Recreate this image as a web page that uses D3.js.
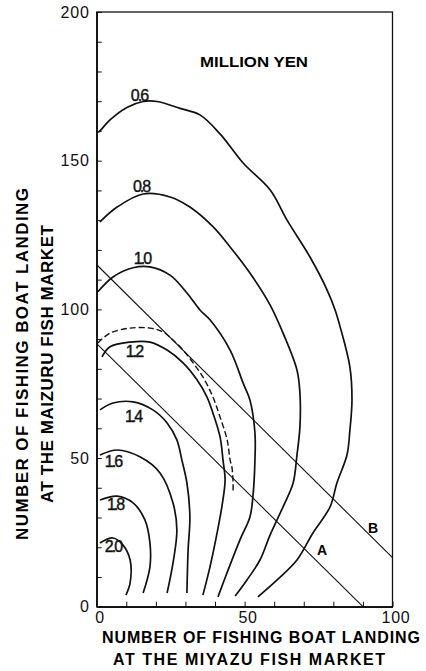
<!DOCTYPE html>
<html>
<head>
<meta charset="utf-8">
<script src="https://d3js.org/d3.v7.min.js"></script>
<style>
  body { margin: 0; background: #fff; }
  svg { display: block; font-family: "Liberation Sans", Arial, sans-serif; }
</style>
</head>
<body>
<div id="chart"></div>
<script>
// contour levels in million yen, points are [miyazu landings, maizuru landings]
var levels = ["0.6", "0.8", "1.0", "1.2", "1.4", "1.6", "1.8", "2.0"];

var c06 = [[0.5,159.5],[1.1,160.0],[4.5,163.7],[10.2,167.9],[15.7,169.9],[20.4,169.9],[28.2,167.6],[34.9,165.4],[41.7,159.0],[49.5,149.2],[58.6,140.2],[64.3,130.1],[72.1,117.6],[77.9,106.5],[80.6,99.8],[82.3,94.1],[85.6,80.6],[86.3,69.5],[85.6,59.4],[84.6,51.0],[81.2,41.6],[78.9,33.6],[73.1,24.8],[67.7,15.7],[61.0,9.0],[54.5,3.3]];
var c08 = [[1.1,129.4],[6.9,134.4],[15.7,138.8],[24.8,137.8],[31.5,134.4],[39.3,127.8],[45.1,121.0],[51.8,112.2],[58.6,101.5],[63.0,92.0],[67.7,79.6],[68.7,71.9],[68.7,60.4],[67.7,51.0],[66.4,41.6],[63.0,33.6],[58.6,24.1],[55.2,15.7],[50.8,9.0],[46.8,3.6]];
var c10 = [[0.4,105.9],[5.5,110.9],[12.3,114.0],[18.0,114.3],[24.8,111.5],[30.5,105.5],[34.9,99.8],[38.3,96.5],[45.1,86.3],[49.5,75.2],[51.8,69.5],[53.5,58.4],[53.5,49.3],[52.8,36.9],[51.8,30.2],[48.4,22.4],[44.4,12.3],[41.0,3.3]];
var c12 = [[1.8,84.0],[4.5,87.4],[11.3,89.0],[18.0,89.0],[23.8,86.3],[29.2,82.0],[33.9,76.3],[37.3,70.5],[39.3,65.1],[41.7,57.1],[42.7,49.3],[43.4,42.6],[42.4,34.2],[40.7,24.8],[38.3,13.4],[35.9,3.9]];
var c14 = [[1.1,66.2],[5.5,68.5],[12.3,68.9],[19.0,66.2],[23.8,61.8],[27.1,56.1],[28.8,49.3],[30.5,41.6],[31.5,30.2],[30.9,19.1],[30.5,4.6]];
var c16 = [[1.1,51.0],[6.9,52.7],[14.6,50.4],[21.4,45.0],[25.8,34.9],[27.1,25.8],[25.8,14.7],[23.8,4.6]];
var c18 = [[1.1,35.9],[6.9,37.2],[12.3,34.9],[16.3,29.2],[18.0,21.4],[18.0,13.4],[15.7,4.6]];
var c20 = [[1.1,21.4],[5.5,23.1],[8.9,20.7],[11.3,15.7],[11.3,8.0],[9.9,3.9]];
var contours = [c06, c08, c10, c12, c14, c16, c18, c20];

// dashed contour next to 1.2
var dashed = [[0.4,88.7],[4.5,92.0],[11.3,93.7],[18.0,93.7],[22.4,92.4],[25.8,89.7],[29.2,86.3],[32.6,82.0],[35.9,77.3],[39.3,70.5],[41.7,63.8],[44.1,56.1],[45.1,49.3],[45.7,47.0],[46.1,41.6],[46.1,38.3]];

// straight lines A and B
var lineA = [[0, 88.5], [90, 0]];
var lineB = [[0, 115], [100, 16.5]];

// where each level label sits (data units)
var labelAt = [[14.3,172.1],[15.0,141.5],[15.3,117.3],[12.6,86.0],[12.3,64.1],[5.5,48.9],[6.2,34.3],[5.5,20.2]];
var lineLabels = [{name: "A", at: [76.2, 19.1]}, {name: "B", at: [93.4, 26.5]}];

var xTicks = d3.range(0, 101, 10);
var yTicks = d3.range(0, 201, 10);

var margin = {top: 12, left: 96.7},
    width = 295.8,
    height = 594.7;

var svg = d3.select("#chart").append("svg")
    .attr("width", 426)
    .attr("height", 671);

var g = svg.append("g")
    .attr("transform", "translate(" + margin.left + "," + margin.top + ")");

var x = d3.scaleLinear().domain([0, 100]).range([0, width]);
var y = d3.scaleLinear().domain([0, 200]).range([height, 0]);

// frame
g.append("rect")
    .attr("width", width)
    .attr("height", height)
    .attr("fill", "none")
    .attr("stroke", "#111")
    .attr("stroke-width", 1.3);

// axes, ticks inside
var yAxis = g.append("g")
    .call(d3.axisLeft(y).tickValues(yTicks).tickSize(-5).tickSizeOuter(0).tickPadding(7)
      .tickFormat(function(d) { return d % 50 === 0 ? d : ""; }));
var xAxis = g.append("g")
    .attr("transform", "translate(0," + height + ")")
    .call(d3.axisBottom(x).tickValues(xTicks).tickSize(-5).tickSizeOuter(0).tickPadding(5)
      .tickFormat(function(d) { return d % 50 === 0 ? d : ""; }));

[yAxis, xAxis].forEach(function(a) {
  a.select(".domain").attr("stroke", "#111").attr("stroke-width", 1.5);
  a.selectAll(".tick line").attr("stroke", "#111").attr("stroke-width", 1);
  a.selectAll(".tick text")
      .attr("fill", "#111")
      .style("font-size", "16px")
      .style("letter-spacing", "0.8px")
      .style("font-family", "'Liberation Sans', Arial, sans-serif");
});
xAxis.selectAll(".tick text").attr("dx", 3);

var line = d3.line()
    .x(function(d) { return x(d[0]); })
    .y(function(d) { return y(d[1]); })
    .curve(d3.curveCatmullRom.alpha(0.5));

// contours
g.selectAll("path.contour")
    .data(contours)
  .enter().append("path")
    .attr("class", "contour")
    .attr("d", line)
    .attr("fill", "none")
    .attr("stroke", "#111")
    .attr("stroke-width", 1.7);

g.append("path")
    .attr("d", line(dashed))
    .attr("fill", "none")
    .attr("stroke", "#111")
    .attr("stroke-width", 1.4)
    .attr("stroke-dasharray", "6,3");

// lines A and B
g.selectAll("path.ab")
    .data([lineA, lineB])
  .enter().append("path")
    .attr("class", "ab")
    .attr("d", d3.line().x(function(d) { return x(d[0]); }).y(function(d) { return y(d[1]); }))
    .attr("stroke", "#111")
    .attr("stroke-width", 1.1);

// level labels, the point squeezed under the digits as in the print
g.selectAll("text.level")
    .data(levels)
  .enter().append("text")
    .attr("class", "level")
    .attr("x", function(d, i) { return x(labelAt[i][0]); })
    .attr("y", function(d, i) { return y(labelAt[i][1]); })
    .attr("dy", "0.36em")
    .attr("text-anchor", "middle")
    .style("font-size", "16px")
    .style("letter-spacing", "-2px")
    .attr("fill", "#111")
    .attr("stroke", "#111")
    .attr("stroke-width", 0.4)
    .text(function(d) { return d; });

g.selectAll("text.ablab")
    .data(lineLabels)
  .enter().append("text")
    .attr("class", "ablab")
    .attr("x", function(d) { return x(d.at[0]); })
    .attr("y", function(d) { return y(d.at[1]); })
    .attr("dy", "0.36em")
    .attr("text-anchor", "middle")
    .style("font-size", "14px")
    .style("font-weight", "bold")
    .text(function(d) { return d.name; });

// unit note
svg.append("text")
    .attr("x", 200).attr("y", 67)
    .attr("textLength", 108).attr("lengthAdjust", "spacingAndGlyphs")
    .style("font-size", "14px").style("font-weight", "bold")
    .text("MILLION YEN");

// axis titles
svg.append("text")
    .attr("x", 102).attr("y", 643)
    .attr("textLength", 318).attr("lengthAdjust", "spacing")
    .style("font-size", "16px").style("font-weight", "bold")
    .text("NUMBER OF FISHING BOAT LANDING");
svg.append("text")
    .attr("x", 113).attr("y", 665)
    .attr("textLength", 272).attr("lengthAdjust", "spacing")
    .style("font-size", "16px").style("font-weight", "bold")
    .text("AT THE MIYAZU FISH MARKET");

svg.append("text")
    .attr("transform", "translate(28,540) rotate(-90)")
    .attr("textLength", 352).attr("lengthAdjust", "spacing")
    .style("font-size", "17px").style("font-weight", "bold")
    .text("NUMBER OF FISHING BOAT LANDING");
svg.append("text")
    .attr("transform", "translate(53,503) rotate(-90)")
    .attr("textLength", 278).attr("lengthAdjust", "spacing")
    .style("font-size", "17px").style("font-weight", "bold")
    .text("AT THE MAIZURU FISH MARKET");
</script>
</body>
</html>
